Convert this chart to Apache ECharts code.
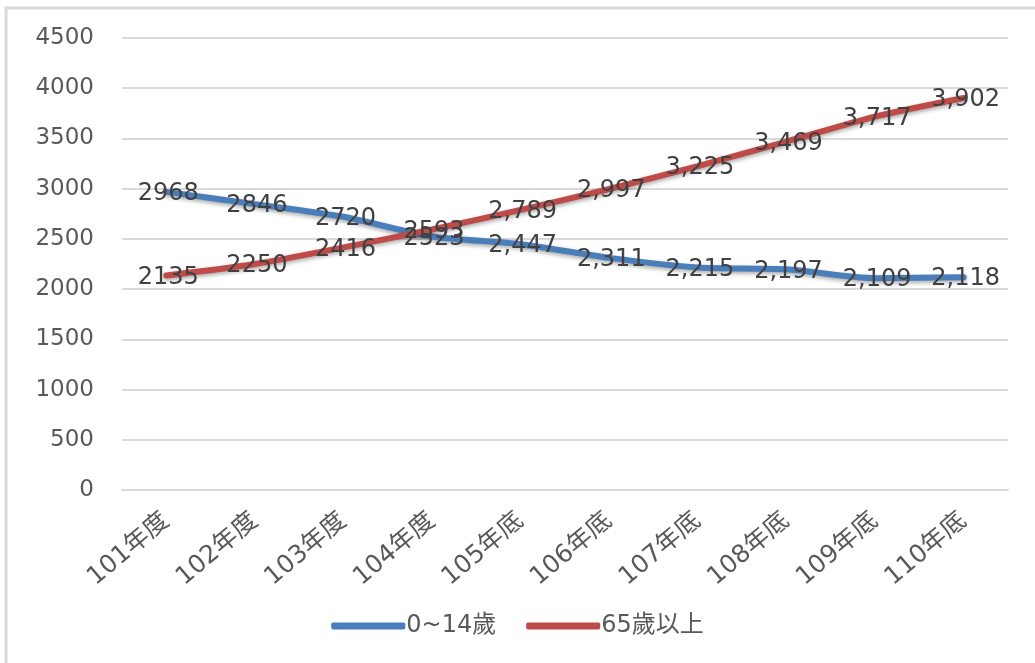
<!DOCTYPE html>
<html>
<head>
<meta charset="utf-8">
<script src="https://cdn.jsdelivr.net/npm/echarts@6/dist/echarts.min.js"></script>
<style>
html,body{margin:0;padding:0;background:#fff;}
#c{width:1035px;height:663px;}
</style>
</head>
<body>
<div id="c"></div>
<script>
var categories = ['101年度','102年度','103年度','104年度','105年底','106年底','107年底','108年底','109年底','110年底'];
var child = [2968, 2846, 2720, 2523, 2447, 2311, 2215, 2197, 2109, 2118];
var elderly = [2135, 2250, 2416, 2593, 2789, 2997, 3225, 3469, 3717, 3902];
var seriesNames = ['0~14歲', '65歲以上'];
var commaFrom = 4;

var FONT = '"DejaVu Sans", "Noto Sans CJK TC", sans-serif';
var CJK = '"DejaVu Sans", "Noto Sans CJK TC", sans-serif';

function fmt(p) {
  var v = p.value;
  if (p.dataIndex >= commaFrom) {
    return String(v).replace(/\B(?=(\d{3})+(?!\d))/g, ',');
  }
  return String(v);
}

function mkSeries(name, data, color) {
  return {
    name: name,
    type: 'line',
    data: data,
    smooth: 0.25,
    symbol: 'circle',
    symbolSize: 1,
    itemStyle: { color: color },
    lineStyle: { width: 6, color: color, shadowBlur: 4, shadowColor: 'rgba(0,0,0,0.35)', shadowOffsetY: 2, cap: 'round' },
    label: {
      show: true,
      position: 'inside',
      offset: [2, 2],
      formatter: fmt,
      color: '#404040',
      fontSize: 24,
      fontFamily: FONT
    },
    emphasis: { disabled: true }
  };
}

var chart = echarts.init(document.getElementById('c'), null, { renderer: 'canvas' });
chart.setOption({
  animation: false,
  backgroundColor: '#fff',
  graphic: [{
    type: 'rect',
    shape: { x: 6, y: 8, width: 1040, height: 670 },
    style: { fill: 'none', stroke: '#d9d9d9', lineWidth: 3 },
    silent: true
  }],
  grid: { left: 122, right: 27, top: 38, bottom: 173, containLabel: false },
  legend: {
    bottom: 20,
    left: 'center',
    itemWidth: 74,
    itemHeight: 7,
    itemGap: 30,
    icon: 'roundRect',
    textStyle: { color: '#595959', fontSize: 24, fontFamily: CJK, padding: [0,0,0,-4] },
    data: seriesNames
  },
  xAxis: {
    type: 'category',
    data: categories,
    boundaryGap: true,
    axisLine: { show: true, lineStyle: { color: '#d9d9d9', width: 2 } },
    axisTick: { show: false },
    axisLabel: { rotate: 40, color: '#595959', fontSize: 25, fontFamily: CJK, margin: 28, interval: 0 }
  },
  yAxis: {
    type: 'value',
    min: 0,
    max: 4500,
    interval: 500,
    axisLine: { show: false },
    axisTick: { show: false },
    splitLine: { lineStyle: { color: '#d9d9d9', width: 2 } },
    axisLabel: { color: '#595959', fontSize: 23, fontFamily: FONT, margin: 28, formatter: function (v) { return String(v); } }
  },
  series: [
    mkSeries(seriesNames[0], child, '#4A7EBB'),
    mkSeries(seriesNames[1], elderly, '#BE4B48')
  ]
});
</script>
</body>
</html>
